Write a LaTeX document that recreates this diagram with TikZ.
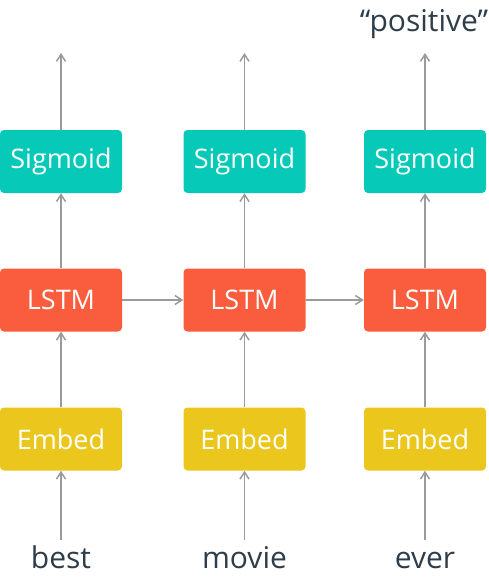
\documentclass[tikz,border=0pt]{standalone}
\usepackage{fontspec}
\setmainfont{Open Sans}
\usetikzlibrary{arrows.meta,positioning}
\definecolor{sigmoidteal}{HTML}{06C9B7}
\definecolor{lstmred}{HTML}{FA5D3D}
\definecolor{embedgold}{HTML}{EBC71D}
\definecolor{wordslate}{HTML}{2E3D49}
\definecolor{arrowgray}{HTML}{9A9A9A}

\begin{document}
\begin{tikzpicture}[x=1pt,y=-1pt,
    block/.style={rounded corners=4pt, minimum width=122pt, minimum height=63pt,
        inner sep=0pt, text=white, font=\fontsize{27}{32}\selectfont},
    word/.style={text=wordslate, font=\fontsize{30}{36}\selectfont, anchor=base},
    flow/.style={arrowgray, line width=1.5pt, -{Straight Barb[length=7pt,width=9pt]}}]
        \useasboundingbox (0,0) rectangle (489,578);
        % output layer
        \node[block, fill=sigmoidteal] (sig1) at (61,161.5) {Sigmoid};
        \node[block, fill=sigmoidteal] (sig2) at (244.5,161.5) {Sigmoid};
        \node[block, fill=sigmoidteal] (sig3) at (425,161.5) {Sigmoid};
        % recurrent layer
        \node[block, fill=lstmred] (lstm1) at (61,300) {LSTM};
        \node[block, fill=lstmred] (lstm2) at (244.5,300) {LSTM};
        \node[block, fill=lstmred] (lstm3) at (425,300) {LSTM};
        % embedding layer
        \node[block, fill=embedgold] (emb1) at (61,439) {Embed};
        \node[block, fill=embedgold] (emb2) at (244.5,439) {Embed};
        \node[block, fill=embedgold] (emb3) at (425,439) {Embed};
        % words
        \node[word] (w1) at (61,568) {best};
        \node[word] (w2) at (244.5,568) {movie};
        \node[word] (w3) at (425,568) {ever};
        \node[word] (out) at (424,32) {“positive”};
        \coordinate (in1) at (61,540);
        \coordinate (in2) at (244.5,540);
        \coordinate (in3) at (425,540);
        \coordinate (top1) at (61,53);
        \coordinate (top2) at (244.5,53);
        \coordinate (top3) at (425,53);
        % arrows
        \draw[flow] (in1) -- (emb1);
        \draw[flow] (in2) -- (emb2);
        \draw[flow] (in3) -- (emb3);
        \draw[flow] (emb1) -- (lstm1);
        \draw[flow] (emb2) -- (lstm2);
        \draw[flow] (emb3) -- (lstm3);
        \draw[flow] (lstm1) -- (sig1);
        \draw[flow] (lstm2) -- (sig2);
        \draw[flow] (lstm3) -- (sig3);
        \draw[flow] (sig1) -- (top1);
        \draw[flow] (sig2) -- (top2);
        \draw[flow] (sig3) -- (top3);
        \draw[flow] (lstm1) -- (lstm2);
        \draw[flow] (lstm2) -- (lstm3);
    \end{tikzpicture}
\end{document}
